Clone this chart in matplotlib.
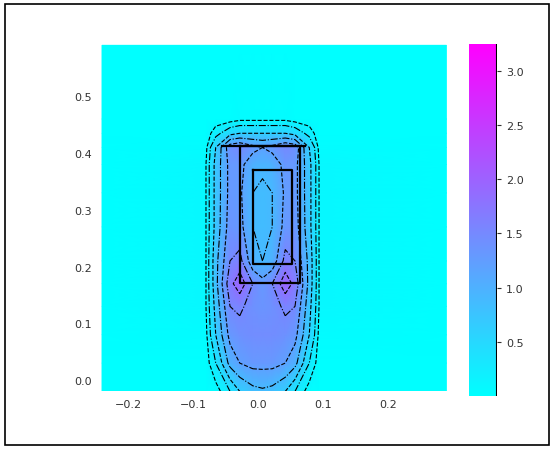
import matplotlib
matplotlib.use('Agg')
import numpy as np
import matplotlib.pyplot as plt
from matplotlib.patches import Rectangle

# grid nodes (x across, y up) and field values
x_nodes = [-0.24, -0.08, -0.065, -0.043, -0.028, -0.008, 0.007, 0.022, 0.042, 0.057, 0.079, 0.094, 0.29]
y_nodes = [-0.02, 0.03, 0.08, 0.13, 0.17, 0.21, 0.27, 0.33, 0.38, 0.41, 0.435, 0.46, 0.59]
field = [
    [0, 0, 0, 0.3, 0.6, 0.8, 0.85, 0.8, 0.6, 0.3, 0, 0, 0],
    [0, 0, 0.3, 1.0, 1.2, 1.3, 1.3, 1.3, 1.2, 1.0, 0.3, 0, 0],
    [0, 0.05, 0.6, 1.3, 1.4, 1.45, 1.45, 1.45, 1.4, 1.3, 0.6, 0.05, 0],
    [0, 0.1, 0.7, 1.5, 1.55, 1.4, 1.35, 1.4, 1.55, 1.5, 0.7, 0.1, 0],
    [0, 0.1, 0.8, 1.7, 2.0, 1.5, 1.3, 1.5, 2.0, 1.7, 0.8, 0.1, 0],
    [0, 0.1, 0.8, 1.5, 1.6, 1.0, 0.9, 1.0, 1.6, 1.5, 0.8, 0.1, 0],
    [0, 0.1, 0.7, 1.35, 1.3, 0.9, 0.85, 0.9, 1.3, 1.35, 0.7, 0.1, 0],
    [0, 0.1, 0.7, 1.3, 1.25, 0.9, 0.85, 0.9, 1.25, 1.3, 0.7, 0.1, 0],
    [0, 0.1, 0.7, 1.3, 1.3, 1.0, 0.95, 1.0, 1.3, 1.3, 0.7, 0.1, 0],
    [0, 0.05, 0.6, 1.4, 1.5, 1.3, 1.2, 1.3, 1.5, 1.4, 0.6, 0.05, 0],
    [0, 0, 0.2, 0.5, 0.6, 0.6, 0.6, 0.6, 0.6, 0.5, 0.2, 0, 0],
    [0, 0, 0, 0, 0.05, 0.05, 0.05, 0.05, 0.05, 0, 0, 0, 0],
    [0, 0, 0, 0, 0, 0, 0, 0, 0, 0, 0, 0, 0],
]
contour_levels = [0.1, 0.3, 0.6, 0.9, 1.2, 1.5, 1.8]
contour_styles = ['--', '-.', '--', '-.', '--', '-.', '--']

# device outline
outer_x = [-0.028, 0.065, 0.065, -0.028, -0.028]
outer_y = [0.412, 0.412, 0.171, 0.171, 0.412]
inner_x = [-0.008, 0.052, 0.052, -0.008, -0.008]
inner_y = [0.371, 0.371, 0.204, 0.204, 0.371]
bar_x = [-0.055, 0.072]
bar_y = [0.412, 0.412]

xticks = [-0.2, -0.1, 0, 0.1, 0.2]
yticks = [0, 0.1, 0.2, 0.3, 0.4, 0.5]
cticks = [0.5, 1.0, 1.5, 2.0, 2.5, 3.0]

fig = plt.figure(figsize=(5.56, 4.52), dpi=100)
fig.patches.append(Rectangle((0.009, 0.013), 0.978, 0.976, transform=fig.transFigure,
                             fill=False, edgecolor='black', lw=1.2))
ax = fig.add_axes([0.180, 0.133, 0.624, 0.767])
cax = fig.add_axes([0.8435, 0.122, 0.050, 0.779])

X, Y = np.meshgrid(x_nodes, y_nodes)
Z = np.array(field)
mesh = ax.pcolormesh(X, Y, Z, cmap='cool', vmin=0, vmax=3.25, shading='gouraud')
cs = ax.contour(X, Y, Z, levels=contour_levels, colors='k', linewidths=0.8)
cs.set_linestyles(contour_styles)

ax.plot(outer_x, outer_y, color='k', lw=1.6)
ax.plot(inner_x, inner_y, color='k', lw=1.6)
ax.plot(bar_x, bar_y, color='k', lw=1.6)

ax.set_xlim(-0.243, 0.291)
ax.set_ylim(-0.019, 0.592)
ax.set_xticks(xticks)
ax.set_yticks(yticks)
ax.tick_params(length=0, labelsize=8, colors='#333333', pad=6)
for s in ax.spines.values():
    s.set_visible(False)

cb = fig.colorbar(mesh, cax=cax, ticks=cticks)
cb.outline.set_visible(False)
cax.axvline(1, color='k', lw=1.5)
cax.tick_params(length=3, labelsize=8, colors='#333333')

fig.savefig('out.png', dpi=100)
